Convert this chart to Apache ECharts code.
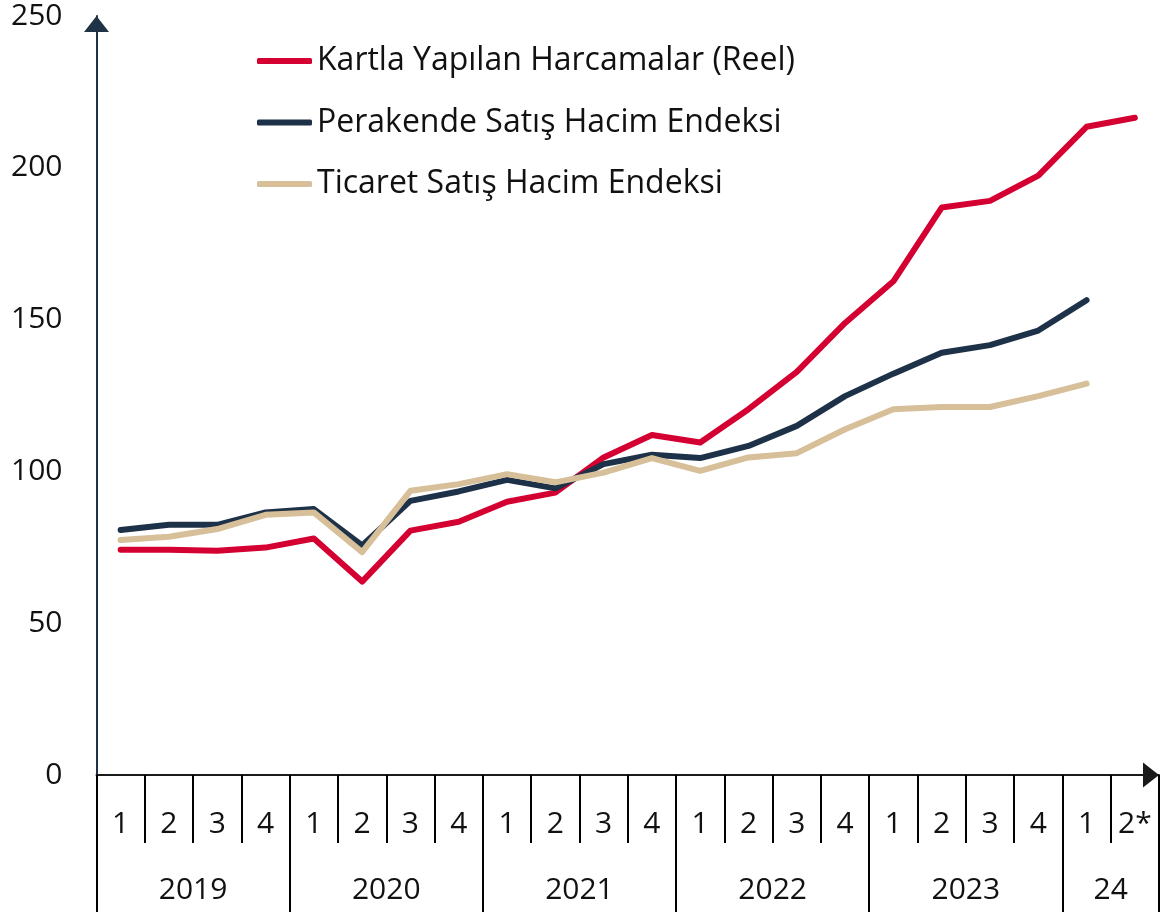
<!DOCTYPE html>
<html>
<head>
<meta charset="utf-8">
<script src="https://cdn.jsdelivr.net/npm/echarts@6/dist/echarts.min.js"></script>
<style>
    html, body { margin: 0; padding: 0; background: #fff; }
    #chart { width: 1160px; height: 912px; }
</style>
</head>
<body>
<div id="chart"></div>
<script>
    // quarters 2019Q1 .. 2024Q2
    const quarters = ['1','2','3','4','1','2','3','4','1','2','3','4','1','2','3','4','1','2','3','4','1','2*'];
    // year labels sit on the quarter-boundary scale (0..22)
    const yearPos = [2, 6, 10, 14, 18, 21];
    const yearNames = ['2019', '2020', '2021', '2022', '2023', '24'];
    const yearBounds = [0, 4, 8, 12, 16, 20, 22];
    const quarterBounds = [1, 2, 3, 5, 6, 7, 9, 10, 11, 13, 14, 15, 17, 18, 19, 21];
    const yTicks = [0, 50, 100, 150, 200, 250];

    const kartName = 'Kartla Yapılan Harcamalar (Reel)';
    const perName = 'Perakende Satış Hacim Endeksi';
    const ticName = 'Ticaret Satış Hacim Endeksi';

    const kart = [74.2, 74.2, 73.9, 74.9, 77.9, 63.7, 80.5, 83.4, 90.0, 93.0, 104.6, 112.0,
                  109.5, 120.5, 132.8, 148.9, 162.6, 186.9, 189.1, 197.4, 213.5, 216.5];
    const perakende = [80.7, 82.4, 82.4, 86.5, 87.6, 75.6, 90.3, 93.4, 97.2, 94.4, 102.4, 105.5,
                       104.4, 108.4, 115.0, 124.8, 132.2, 139.1, 141.6, 146.4, 156.4, null];
    const ticaret = [77.4, 78.5, 81.0, 85.7, 86.5, 73.4, 93.6, 95.8, 99.1, 96.4, 99.6, 104.4,
                     100.2, 104.6, 106.0, 113.9, 120.5, 121.2, 121.2, 124.8, 128.9, null];

    const font = '"Open Sans", "Noto Sans", sans-serif';
    const txt = '#111';

    const myChart = echarts.init(document.getElementById('chart'));
    myChart.setOption({
        animation: false,
        textStyle: { fontFamily: font },
        grid: { left: 96.5, right: 1, top: 16, bottom: 137 },
        legend: {
            orient: 'vertical',
            left: 257,
            top: 45,
            padding: 0,
            itemGap: 29.5,
            itemWidth: 55,
            itemHeight: 6,
            icon: 'roundRect',
            data: [kartName, perName, ticName],
            textStyle: { fontFamily: font, fontSize: 32, color: txt }
        },
        xAxis: [
            {
                type: 'category',
                data: quarters,
                boundaryGap: true,
                axisLine: {
                    lineStyle: { color: '#1a1a1a', width: 2 },
                    symbol: ['none', 'triangle'],
                    symbolSize: [25, 16],
                    symbolOffset: [0, -8]
                },
                axisTick: { show: false },
                axisLabel: { interval: 0, margin: 34, fontSize: 30, color: txt, fontFamily: font }
            },
            {
                // quarter separators
                type: 'value',
                min: 0,
                max: 22,
                position: 'bottom',
                axisLine: { show: false },
                splitLine: { show: false },
                axisTick: {
                    customValues: quarterBounds,
                    length: 68,
                    lineStyle: { color: '#000', width: 2 }
                },
                axisLabel: { show: false }
            },
            {
                // year separators and year labels
                type: 'value',
                min: 0,
                max: 22,
                position: 'bottom',
                axisLine: { show: false },
                splitLine: { show: false },
                axisTick: {
                    customValues: yearBounds,
                    length: 140,
                    lineStyle: { color: '#000', width: 2 }
                },
                axisLabel: {
                    customValues: yearPos,
                    margin: 100,
                    fontSize: 30,
                    color: txt,
                    fontFamily: font,
                    formatter: function (v) { return yearNames[yearPos.indexOf(v)]; }
                }
            }
        ],
        yAxis: {
            type: 'value',
            min: 0,
            max: 250,
            interval: 50,
            splitLine: { show: false },
            axisTick: { show: false },
            axisLine: {
                show: true,
                lineStyle: { color: '#1f3347', width: 2 },
                symbol: ['none', 'triangle'],
                symbolSize: [25, 16],
                symbolOffset: [0, -8]
            },
            axisLabel: {
                margin: 34,
                fontSize: 30,
                color: txt,
                fontFamily: font,
                customValues: yTicks
            }
        },
        series: [
            {
                name: kartName,
                type: 'line',
                data: kart,
                symbol: 'none',
                color: '#d50032',
                lineStyle: { width: 6, cap: 'round', join: 'round' }
            },
            {
                name: perName,
                type: 'line',
                data: perakende,
                symbol: 'none',
                color: '#1d3148',
                lineStyle: { width: 6, cap: 'round', join: 'round' }
            },
            {
                name: ticName,
                type: 'line',
                data: ticaret,
                symbol: 'none',
                color: '#d6bf99',
                lineStyle: { width: 6, cap: 'round', join: 'round' }
            }
        ]
    });
</script>
</body>
</html>
